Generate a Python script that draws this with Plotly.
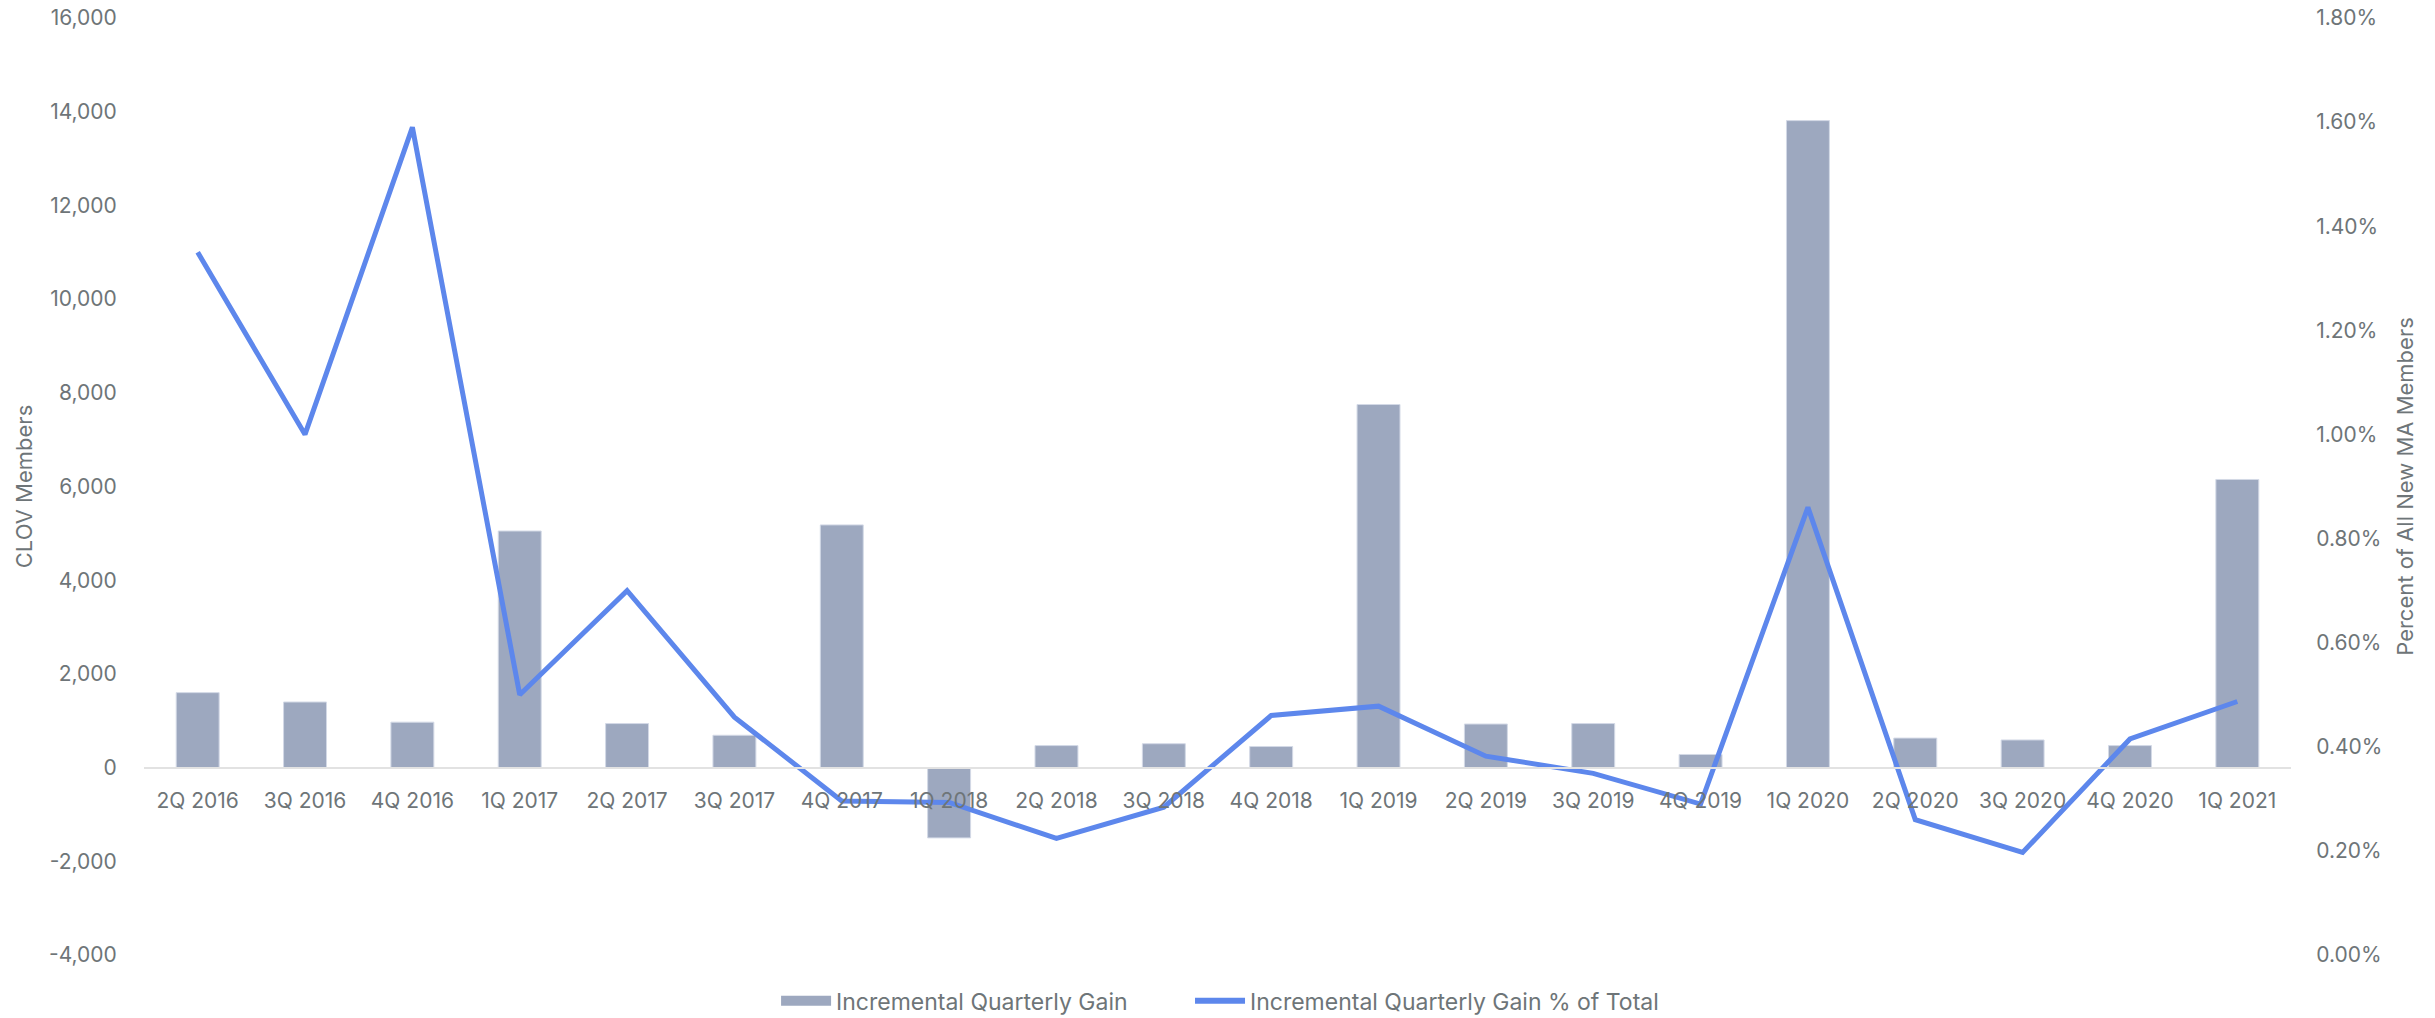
import plotly.graph_objects as go

quarters = [
    "2Q 2016", "3Q 2016", "4Q 2016", "1Q 2017", "2Q 2017", "3Q 2017", "4Q 2017",
    "1Q 2018", "2Q 2018", "3Q 2018", "4Q 2018", "1Q 2019", "2Q 2019", "3Q 2019",
    "4Q 2019", "1Q 2020", "2Q 2020", "3Q 2020", "4Q 2020", "1Q 2021",
]
incremental_gain = [
    1600, 1400, 970, 5050, 940, 690, 5180, -1500, 470, 510,
    450, 7750, 930, 940, 280, 13810, 630, 590, 470, 6150,
]
gain_pct_of_total = [
    0.0135, 0.0100, 0.0159, 0.0050, 0.0070, 0.00457, 0.00296, 0.00293, 0.00224, 0.00284,
    0.00460, 0.00478, 0.00382, 0.00349, 0.00290, 0.00860, 0.00260, 0.00197, 0.00415, 0.00487,
]
members_ticks = list(range(-4000, 16001, 2000))
pct_ticks = [i / 1000 for i in range(0, 19, 2)]

BAR_COLOR = "#9da8bf"
LINE_COLOR = "#5d87ec"
TEXT_COLOR = "#6e7578"
FONT = "Inter, Lato, sans-serif"

fig = go.Figure()
fig.add_trace(go.Bar(
    x=quarters, y=incremental_gain, name="Incremental Quarterly Gain",
    marker=dict(color=BAR_COLOR, line=dict(color="#d3d9e6", width=1)),
    yaxis="y", showlegend=False,
))
fig.add_trace(go.Scatter(
    x=quarters, y=gain_pct_of_total, name="Incremental Quarterly Gain % of Total",
    mode="lines", line=dict(color=LINE_COLOR, width=5),
    yaxis="y2", showlegend=False,
))
# legend entries: a wide flat swatch for the bars, a thick stroke for the line
fig.add_trace(go.Scatter(
    x=[None], y=[None], name="Incremental Quarterly Gain", mode="lines",
    line=dict(color=BAR_COLOR, width=14), yaxis="y", legend="legend",
))
fig.add_trace(go.Scatter(
    x=[None], y=[None], name="Incremental Quarterly Gain % of Total", mode="lines",
    line=dict(color=LINE_COLOR, width=6), yaxis="y2", legend="legend2",
))

legend_style = dict(
    orientation="h", xanchor="left", y=-0.049, yanchor="middle",
    font=dict(size=23, color=TEXT_COLOR), itemwidth=50,
)

fig.update_layout(
    width=2435, height=1018,
    margin=dict(l=144, r=144, t=18, b=63, autoexpand=False),
    paper_bgcolor="white", plot_bgcolor="white",
    font=dict(family=FONT, size=21, color=TEXT_COLOR),
    bargap=0.6,
    showlegend=True,
    legend=dict(x=0.2944, **legend_style),
    legend2=dict(x=0.4872, **legend_style),
    xaxis=dict(
        anchor="free", position=0.2,
        showline=True, linecolor="#e2e2e2", linewidth=2,
        ticks="", showgrid=False, zeroline=False, ticklabelstandoff=14,
        tickfont=dict(size=21, color=TEXT_COLOR),
    ),
    yaxis=dict(
        range=[-4000, 16000],
        tickvals=members_ticks,
        ticktext=[f"{v:,}" for v in members_ticks],
        showgrid=False, zeroline=False, showline=False,
        ticks="outside", ticklen=22, tickcolor="rgba(0,0,0,0)",
        tickfont=dict(size=21, color=TEXT_COLOR),
        title=dict(text="CLOV Members", font=dict(size=22, color=TEXT_COLOR), standoff=10),
    ),
    yaxis2=dict(
        overlaying="y", side="right",
        range=[0, 0.018], tickvals=pct_ticks,
        ticktext=[f"{v:.2%}" for v in pct_ticks],
        showgrid=False, zeroline=False, showline=False,
        ticks="outside", ticklen=20, tickcolor="rgba(0,0,0,0)",
        tickfont=dict(size=21, color=TEXT_COLOR),
        title=dict(text="Percent of All New MA Members", font=dict(size=22, color=TEXT_COLOR), standoff=16),
    ),
)

fig.write_html("out.html")
